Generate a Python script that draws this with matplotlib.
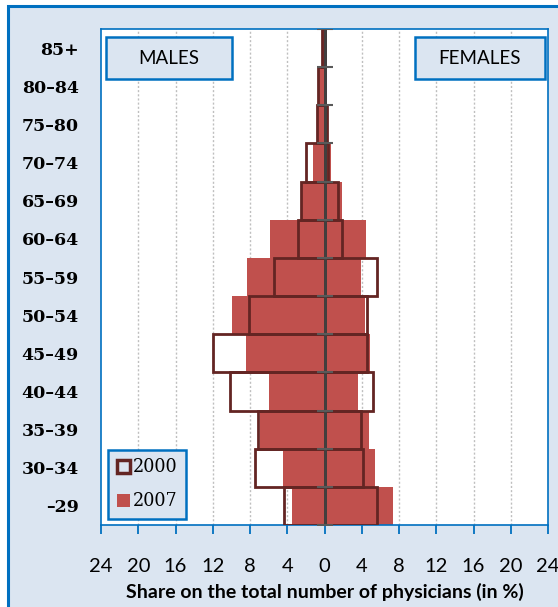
import matplotlib.pyplot as plt
import numpy as np
from matplotlib.patches import Rectangle, Patch

# ------------------------------------------------------------------------------
# data (share of physicians in %), youngest group first
ages = ["\u201329", "30\u201334", "35\u201339", "40\u201344", "45\u201349", "50\u201354",
        "55\u201359", "60\u201364", "65\u201369", "70\u201374", "75\u201380", "80\u201384", "85+"]
male_2000 = [4.4, 7.5, 7.1, 10.1, 12.0, 8.1, 5.4, 2.8, 2.5, 2.0, 0.8, 0.65, 0.3]
female_2000 = [5.6, 4.1, 3.95, 5.2, 4.6, 4.6, 5.6, 1.9, 1.5, 0.4, 0.25, 0.05, 0.05]
male_2007 = [3.5, 4.45, 6.95, 5.95, 8.4, 9.9, 8.3, 5.85, 2.4, 1.25, 0.7, 0.6, 0.2]
female_2007 = [7.4, 5.45, 4.75, 3.65, 4.85, 4.3, 3.95, 4.5, 1.85, 0.75, 0.2, 0.05, 0.05]
xticks = [-24, -20, -16, -12, -8, -4, 0, 4, 8, 12, 16, 20, 24]

# colours
fill_col = "#C0504D"
edge_col = "#632523"
blue = "#0070C0"
panel = "#DBE5F1"

fig = plt.figure(figsize=(5.58, 6.07), dpi=100)

# outer panel (cut off at right and bottom like the original)
fig.patches.append(Rectangle((8 / 558, -0.1), 1.2, 1.1 - 6 / 607, transform=fig.transFigure,
                             facecolor=panel, edgecolor=blue, linewidth=2.2, zorder=-5))

ax = fig.add_axes([101 / 558, 1 - 525 / 607, 447 / 558, 496 / 607])
ax.set_facecolor("white")

y = np.arange(len(ages))

# 2007 filled bars
ax.barh(y, -np.array(male_2007), height=1.0, color=fill_col, zorder=2, label="2007")
ax.barh(y, female_2007, height=1.0, color=fill_col, zorder=2)

# 2000 outline bars
ax.barh(y, -np.array(male_2000), height=1.0, facecolor="none", edgecolor=edge_col,
        linewidth=2.0, zorder=3, label="2000")
ax.barh(y, female_2000, height=1.0, facecolor="none", edgecolor=edge_col,
        linewidth=2.0, zorder=3)

# central axis line with its little tick marks
ax.axvline(0, color="#404040", linewidth=2.0, zorder=4)
bounds = np.arange(len(ages) + 1) - 0.5
ax.plot(np.zeros(len(bounds)), bounds, linestyle="none", marker="_", markersize=11,
        markeredgewidth=1.5, color="#595959", zorder=4, clip_on=True)

ax.set_xlim(-24, 24)
ax.set_ylim(-0.5, 12.5)

# grid
for xv in xticks[1:-1]:
    if xv != 0:
        ax.axvline(xv, color="#BFBFBF", linewidth=1.0, linestyle=(0, (1.5, 1.5)), zorder=1)

ax.set_xticks(xticks)
ax.set_xticklabels([str(abs(v)) for v in xticks], family="Lato", fontsize=14.5)
ax.set_yticks(y)
ax.set_yticklabels(ages, family="DejaVu Serif", fontsize=12.5, fontweight="bold")
ax.tick_params(axis="x", direction="out", length=6.5, width=1.3, color=blue, pad=17)
ax.tick_params(axis="y", length=0, pad=16)

for sp in ax.spines.values():
    sp.set_color(blue)
    sp.set_linewidth(1.2)

ax.set_xlabel("Share on the total number of physicians (in %)", family="Lato",
              fontsize=14, fontweight="bold", labelpad=6)

# MALES / FEMALES boxes
for x0, w, txt in [(106, 126, "MALES"), (415, 130, "FEMALES")]:
    bx = (x0 - 101) / 447
    bw = w / 447
    by = (525 - 79) / 496
    bh = 42 / 496
    ax.add_patch(Rectangle((bx, by), bw, bh, transform=ax.transAxes, facecolor=panel,
                           edgecolor=blue, linewidth=1.8, zorder=5))
    ax.text(bx + bw / 2, by + bh / 2, txt, transform=ax.transAxes, ha="center",
            va="center", family="Lato", fontsize=13.5, zorder=6)

# legend
handles = [Patch(facecolor="none", edgecolor=edge_col, linewidth=2.5, label="2000"),
           Patch(facecolor=fill_col, edgecolor="none", label="2007")]
leg = ax.legend(handles=handles, loc="lower left", bbox_to_anchor=(0.015, 0.012),
                borderaxespad=0, prop={"family": "DejaVu Serif", "size": 12.7},
                handlelength=0.75, handleheight=0.75, handletextpad=0.15,
                labelspacing=0.9, borderpad=0.5, fancybox=False, framealpha=1)
leg.get_frame().set_facecolor(panel)
leg.get_frame().set_edgecolor(blue)
leg.get_frame().set_linewidth(1.8)
leg.set_zorder(6)

fig.savefig("out.png", dpi=100)
